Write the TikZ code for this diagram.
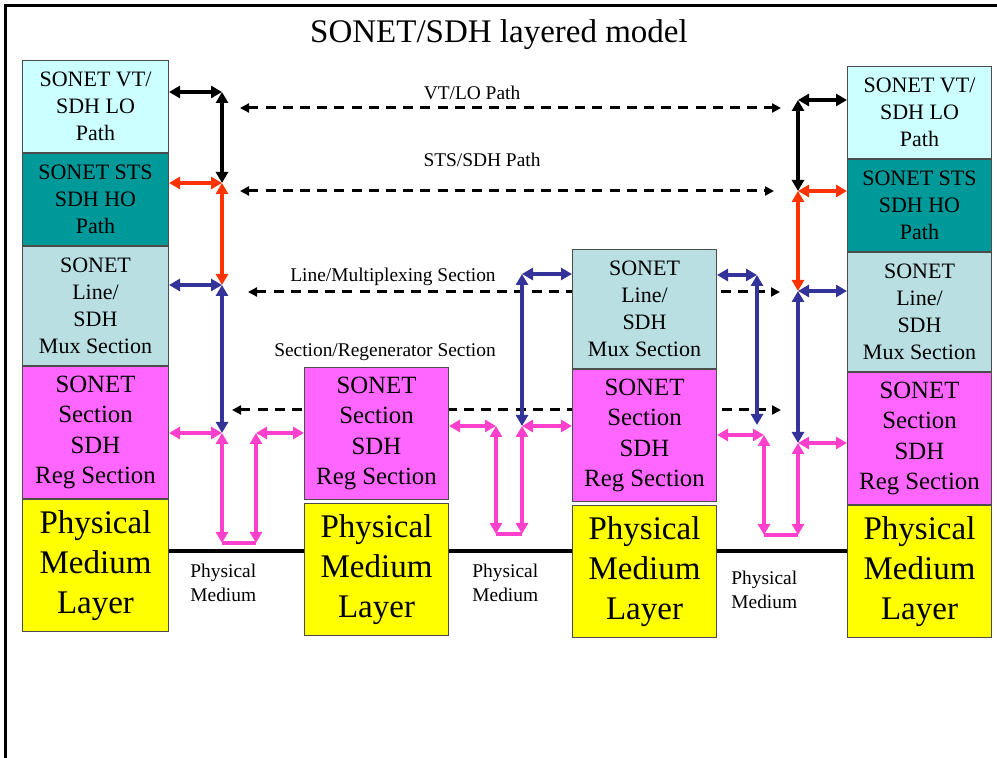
\documentclass[tikz,border=0pt]{standalone}
\usepackage{fontspec}
\setmainfont{Liberation Serif}
\usepackage{tikz, tkz-euclide}
\usetikzlibrary{arrows.meta, positioning}

\definecolor{vtcol}{RGB}{204,255,255}
\definecolor{stscol}{RGB}{0,153,153}
\definecolor{linecol}{RGB}{185,223,227}
\definecolor{seccol}{RGB}{255,102,255}
\definecolor{phycol}{RGB}{255,255,0}
\definecolor{pnkcol}{RGB}{255,64,204}
\definecolor{redcol}{RGB}{255,51,0}
\definecolor{blucol}{RGB}{51,51,153}

\tikzset{
	layer/.style={draw=black!70, line width=0.5pt, inner sep=0pt, align=center, minimum width=72pt},
	vtlayer/.style={layer, fill=vtcol, minimum height=46pt, font=\fontsize{11}{13.5}\selectfont},
	stslayer/.style={layer, fill=stscol, minimum height=46pt, font=\fontsize{11}{13.5}\selectfont},
	linelayer/.style={layer, fill=linecol, minimum height=59.5pt, font=\fontsize{11}{13.5}\selectfont},
	seclayer/.style={layer, fill=seccol, minimum height=66pt, font=\fontsize{12.4}{15.2}\selectfont},
	phylayer/.style={layer, fill=phycol, minimum height=66pt, font=\fontsize{16.5}{20}\selectfont},
	conn/.style={line width=2pt, {Triangle[length=5.5pt,width=6pt]}-{Triangle[length=5.5pt,width=6pt]}},
	blkconn/.style={conn, black},
	redconn/.style={conn, redcol},
	bluconn/.style={conn, blucol},
	pnkconn/.style={conn, pnkcol},
	pnkline/.style={line width=2pt, pnkcol},
	peer/.style={line width=1.5pt, dash pattern=on 5pt off 3.6pt, {Triangle[length=4.5pt,width=4.5pt]}-{Triangle[length=4.5pt,width=4.5pt]}},
	lbl/.style={inner sep=0pt, font=\fontsize{9.7}{12}\selectfont},
	medlbl/.style={lbl, align=left, anchor=west}
}

\begin{document}
\begin{tikzpicture}[x=0.5pt, y=-0.5pt]
		\useasboundingbox (0,0) rectangle (997,758);
		\draw[line width=1.5pt] (5,758) -- (5,6) -- (997,6);
		
		%%% Punti
		\tkzDefPoints{222/92/lA, 222/183/lB, 222/285/lC, 222/433/lD, 222/543/lE, 256/543/lF, 256/433/lG}
		\tkzDefPoints{496/426/mA, 496/534/mB, 522/534/mC, 522/426/mD, 522/274/mE}
		\tkzDefPoints{757/275/nA, 757/425/nB, 764/435/nC, 764/535/nD, 798/535/nE}
		\tkzDefPoints{798/100/rA, 798/191/rB, 798/291/rC, 798/443/rD}
		\tkzDefPoints{240/108/pA1, 781/108/pA2, 240/191/pB1, 774/191/pB2, 248/292/pC1, 780/292/pC2, 232/410/pD1, 781/410/pD2}
		\tkzDefPoints{0/551/med}
		
		%%% Collegamenti tra pari (dietro i blocchi)
		\draw[peer] (pA1) -- (pA2);
		\draw[peer] (pB1) -- (pB2);
		\draw[peer] (pC1) -- (pC2);
		\draw[peer] (pD1) -- (pD2);
		
		%%% Titolo ed etichette
		\node[font=\fontsize{16.5}{20}\selectfont] (title) at (499,35) {SONET/SDH layered model};
		\node[lbl] (vtlbl) at (472,93) {VT/LO Path};
		\node[lbl] (stslbl) at (482,160) {STS/SDH Path};
		\node[lbl] (linelbl) at (393,277) {Line/Multiplexing Section};
		\node[lbl] (seclbl) at (385,352) {Section/Regenerator Section};
		
		%%% Nodo terminale sinistro
		\node[vtlayer, minimum width=73pt, anchor=north west] (lvt) at (22,60) {SONET VT/\\SDH LO\\Path};
		\node[stslayer, minimum width=73pt, below=0pt of lvt] (lsts) {SONET STS\\SDH HO\\Path};
		\node[linelayer, minimum width=73pt, below=0pt of lsts] (lline) {SONET\\Line/\\SDH\\Mux Section};
		\node[seclayer, minimum width=73pt, below=0pt of lline] (lsec) {SONET\\Section\\SDH\\Reg Section};
		\node[phylayer, minimum width=73pt, below=0pt of lsec] (lphy) {Physical\\Medium\\Layer};
		
		%%% Rigeneratore
		\node[seclayer, anchor=north west] (m1sec) at (304,367) {SONET\\Section\\SDH\\Reg Section};
		\node[phylayer, below=1.5pt of m1sec] (m1phy) {Physical\\Medium\\Layer};
		
		%%% Multiplatore
		\node[linelayer, anchor=north west] (m2line) at (572,249) {SONET\\Line/\\SDH\\Mux Section};
		\node[seclayer, below=0pt of m2line] (m2sec) {SONET\\Section\\SDH\\Reg Section};
		\node[phylayer, below=1.5pt of m2sec] (m2phy) {Physical\\Medium\\Layer};
		
		%%% Nodo terminale destro
		\node[vtlayer, anchor=north west] (rvt) at (847,66) {SONET VT/\\SDH LO\\Path};
		\node[stslayer, below=0pt of rvt] (rsts) {SONET STS\\SDH HO\\Path};
		\node[linelayer, below=0pt of rsts] (rline) {SONET\\Line/\\SDH\\Mux Section};
		\node[seclayer, below=0pt of rline] (rsec) {SONET\\Section\\SDH\\Reg Section};
		\node[phylayer, below=0pt of rsec] (rphy) {Physical\\Medium\\Layer};
		
		%%% Mezzo fisico
		\draw[line width=2pt] (lphy.east |- med) -- (m1phy.west |- med);
		\draw[line width=2pt] (m1phy.east |- med) -- (m2phy.west |- med);
		\draw[line width=2pt] (m2phy.east |- med) -- (rphy.west |- med);
		\node[medlbl] (med1) at (190,583) {Physical\\Medium};
		\node[medlbl] (med2) at (472,583) {Physical\\Medium};
		\node[medlbl] (med3) at (731,590) {Physical\\Medium};
		
		%%% Catena sinistra
		\draw[blkconn] (lvt.east |- lA) -- (lA);
		\draw[blkconn] (lA) -- (lB);
		\draw[redconn] (lsts.east |- lB) -- (lB);
		\draw[redconn] (lB) -- (lC);
		\draw[bluconn] (lline.east |- lC) -- (lC);
		\draw[bluconn] (lC) -- (lD);
		\draw[pnkconn] (lsec.east |- lD) -- (lD);
		\draw[pnkconn] (lD) -- (lE);
		\draw[pnkline] (lE) -- (lF);
		\draw[pnkconn] (lF) -- (lG);
		\draw[pnkconn] (lG) -- (m1sec.west |- lG);
		
		%%% Tra rigeneratore e multiplatore
		\draw[pnkconn] (m1sec.east |- mA) -- (mA);
		\draw[pnkconn] (mA) -- (mB);
		\draw[pnkline] (mB) -- (mC);
		\draw[pnkconn] (mC) -- (mD);
		\draw[pnkconn] (mD) -- (m2sec.west |- mD);
		\draw[bluconn] (mE) -- (m2line.west |- mE);
		\draw[bluconn] (mE) -- (mD);
		
		%%% Tra multiplatore e nodo destro
		\draw[bluconn] (m2line.east |- nA) -- (nA);
		\draw[bluconn] (nA) -- (nB);
		\draw[pnkconn] (m2sec.east |- nC) -- (nC);
		\draw[pnkconn] (nC) -- (nD);
		\draw[pnkline] (nD) -- (nE);
		\draw[pnkconn] (nE) -- (rD);
		
		%%% Catena destra
		\draw[blkconn] (rA) -- (rvt.west |- rA);
		\draw[blkconn] (rA) -- (rB);
		\draw[redconn] (rB) -- (rsts.west |- rB);
		\draw[redconn] (rB) -- (rC);
		\draw[bluconn] (rC) -- (rline.west |- rC);
		\draw[bluconn] (rC) -- (rD);
		\draw[pnkconn] (rD) -- (rsec.west |- rD);
	\end{tikzpicture}
\end{document}
